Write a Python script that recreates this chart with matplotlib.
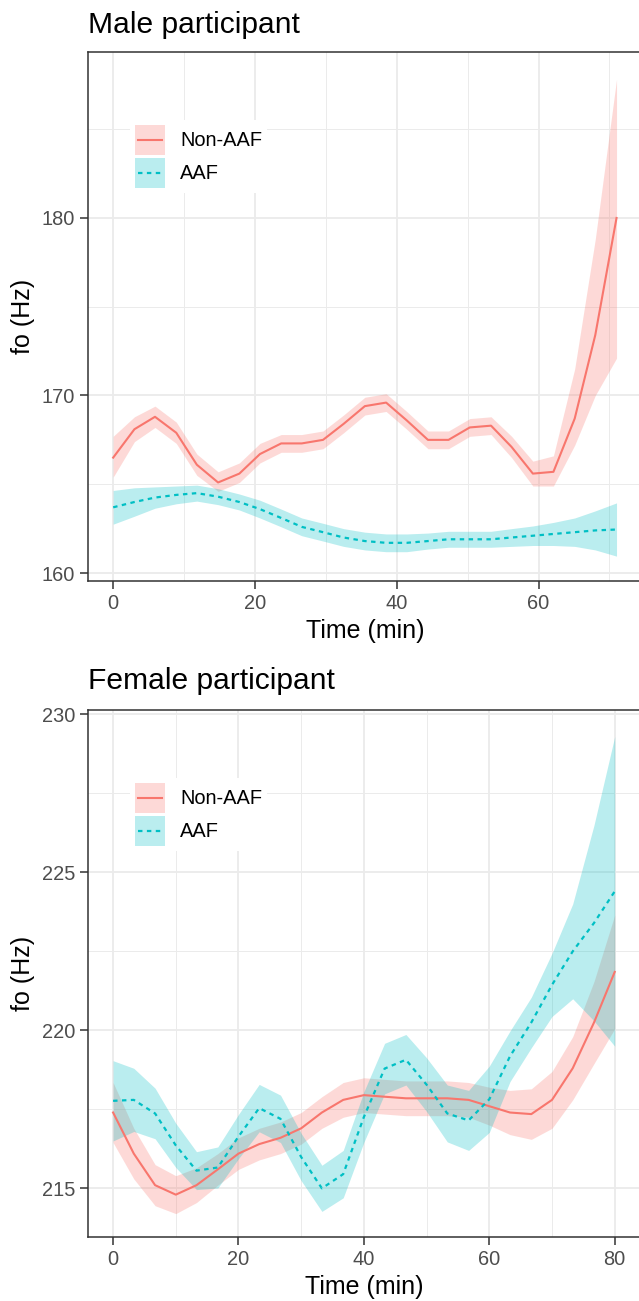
import matplotlib
matplotlib.use("Agg")
import matplotlib.pyplot as plt
import numpy as np
from matplotlib.patches import Patch
from matplotlib.lines import Line2D
from matplotlib.legend_handler import HandlerTuple, HandlerLine2D

plt.rcParams['font.family'] = ['Liberation Sans', 'DejaVu Sans']

# ---- data ----
# male participant
male_time = [0, 3, 5.9, 8.9, 11.8, 14.8, 17.8, 20.7, 23.7, 26.6, 29.6, 32.5, 35.5,
             38.5, 41.4, 44.4, 47.3, 50.3, 53.3, 56.2, 59.2, 62.1, 65.1, 68, 71]
male_nonaaf = [166.5, 168.1, 168.8, 167.9, 166.1, 165.1, 165.6, 166.7, 167.3, 167.3,
               167.5, 168.4, 169.4, 169.6, 168.6, 167.5, 167.5, 168.2, 168.3, 167.1,
               165.6, 165.7, 168.7, 173.4, 180.0]
male_nonaaf_lo = [165.4, 167.4, 168.2, 167.3, 165.5, 164.6, 165.1, 166.2, 166.8, 166.8,
                  167.0, 167.9, 168.9, 169.1, 168.1, 167.0, 167.0, 167.7, 167.8, 166.5,
                  164.9, 164.9, 167.2, 170.0, 172.1]
male_nonaaf_hi = [167.7, 168.8, 169.4, 168.5, 166.7, 165.7, 166.2, 167.3, 167.8, 167.8,
                  168.0, 168.9, 169.9, 170.1, 169.1, 168.0, 168.0, 168.7, 168.8, 167.7,
                  166.3, 166.6, 171.5, 178.8, 187.8]
male_aaf = [163.7, 164.0, 164.25, 164.4, 164.5, 164.3, 164.0, 163.6, 163.1, 162.6,
            162.3, 162.0, 161.8, 161.7, 161.7, 161.8, 161.9, 161.9, 161.9, 162.0,
            162.1, 162.2, 162.3, 162.4, 162.45]
male_aaf_ci = [0.95, 0.8, 0.6, 0.5, 0.45, 0.45, 0.45, 0.5, 0.5, 0.5, 0.5, 0.5, 0.5,
               0.5, 0.5, 0.45, 0.45, 0.45, 0.45, 0.5, 0.55, 0.65, 0.8, 1.1, 1.5]

# female participant
female_time = [0, 3.3, 6.7, 10, 13.3, 16.7, 20, 23.3, 26.7, 30, 33.3, 36.7, 40,
               43.3, 46.7, 50, 53.3, 56.7, 60, 63.3, 66.7, 70, 73.3, 76.7, 80]
female_nonaaf = [217.4, 216.1, 215.1, 214.8, 215.1, 215.6, 216.1, 216.4, 216.6, 216.9,
                 217.4, 217.8, 217.95, 217.9, 217.85, 217.85, 217.85, 217.8, 217.6,
                 217.4, 217.35, 217.8, 218.8, 220.25, 221.85]
female_nonaaf_ci = [0.95, 0.8, 0.65, 0.6, 0.55, 0.5, 0.5, 0.5, 0.5, 0.5, 0.5, 0.55,
                    0.55, 0.55, 0.55, 0.55, 0.55, 0.55, 0.6, 0.7, 0.8, 0.9, 1.0, 1.3, 1.8]
female_aaf = [217.77, 217.8, 217.37, 216.36, 215.56, 215.66, 216.64, 217.54, 217.2,
              215.99, 215.0, 215.45, 217.26, 218.79, 219.07, 218.28, 217.37, 217.15,
              217.82, 219.18, 220.25, 221.44, 222.5, 223.4, 224.4]
female_aaf_ci = [1.27, 1.0, 0.8, 0.7, 0.6, 0.65, 0.7, 0.75, 0.75, 0.75, 0.73, 0.75,
                 0.8, 0.8, 0.8, 0.85, 0.9, 0.95, 1.05, 0.8, 0.8, 1.0, 1.5, 3.1, 4.9]

labels = ["Non-AAF", "AAF"]
red = "#F8766D"
blue = "#00BFC4"

W, H = 639, 1301
fig = plt.figure(figsize=(W / 100, H / 100), dpi=100)


def panel(l, t, r, b):
    return fig.add_axes([l / W, 1 - b / H, (r - l) / W, (b - t) / H])


def style(ax, title, pad):
    ax.set_axisbelow(True)
    ax.grid(which='major', color='#EBEBEB', lw=1.3)
    ax.grid(which='minor', color='#EBEBEB', lw=0.7)
    for s in ax.spines.values():
        s.set_color('#333333')
        s.set_linewidth(1.1)
    ax.tick_params(which='major', length=5.8, width=1.1, color='#333333',
                   labelsize=14.4, labelcolor='#4D4D4D')
    ax.tick_params(axis='x', which='major', pad=3.5)
    ax.tick_params(axis='y', which='major', pad=3.6)
    ax.tick_params(which='minor', length=0)
    ax.set_title(title, loc='left', fontsize=21.6, pad=pad)
    ax.set_xlabel("Time (min)", fontsize=18)
    ax.set_ylabel("fo (Hz)", fontsize=18)
    ax.xaxis.set_label_coords(0.5, -0.072)
    ax.yaxis.set_label_coords(-0.096, 0.5)


def draw(ax, t, m1, lo1, hi1, m2, lo2, hi2):
    ax.fill_between(t, lo1, hi1, color=red, alpha=0.27, lw=0)
    ax.fill_between(t, lo2, hi2, color=blue, alpha=0.27, lw=0)
    ax.plot(t, m1, color=red, lw=1.5)
    ax.plot(t, m2, color=blue, lw=1.6, dashes=(2, 2))


# legend line drawn through the middle of the key box
class CenterLine(HandlerLine2D):
    def create_artists(self, legend, orig_handle, xdescent, ydescent, width,
                       height, fontsize, trans):
        y = height / 2 - ydescent
        line = Line2D([-xdescent + 2, width - xdescent - 2], [y, y])
        self.update_prop(line, orig_handle, legend)
        line.set_transform(trans)
        return [line]


def add_legend(ax, y):
    h = [(Patch(facecolor=red, alpha=0.27, lw=0), Line2D([], [], color=red, lw=1.5)),
         (Patch(facecolor=blue, alpha=0.27, lw=0),
          Line2D([], [], color=blue, lw=1.6, dashes=(2, 2)))]
    leg = ax.legend(h, labels, loc='upper left', bbox_to_anchor=(0.076, y),
                    handler_map={tuple: HandlerTuple(ndivide=1, pad=0),
                                 Line2D: CenterLine()},
                    frameon=True, fancybox=False, framealpha=1, facecolor='white',
                    edgecolor='none', fontsize=14.4, handlelength=1.5,
                    handleheight=1.93, labelspacing=0.15, handletextpad=0.75,
                    borderpad=0.25, borderaxespad=0)
    return leg


# male panel
ax1 = panel(88, 51.8, 641.7, 581)
mlo = np.array(male_aaf) - np.array(male_aaf_ci)
mhi = np.array(male_aaf) + np.array(male_aaf_ci)
draw(ax1, male_time, male_nonaaf, male_nonaaf_lo, male_nonaaf_hi, male_aaf, mlo, mhi)
ax1.set_xlim(-3.55, 74.55)
ax1.set_ylim(159.55, 189.36)
ax1.set_xticks([0, 20, 40, 60])
ax1.set_xticks([10, 30, 50, 70], minor=True)
ax1.set_yticks([160, 170, 180])
ax1.set_yticks([165, 175, 185], minor=True)
style(ax1, "Male participant", 13.7)
add_legend(ax1, 0.871)

# female panel
ax2 = panel(88, 710, 639.8, 1237)
f1 = np.array(female_nonaaf)
c1 = np.array(female_nonaaf_ci)
f2 = np.array(female_aaf)
c2 = np.array(female_aaf_ci)
draw(ax2, female_time, f1, f1 - c1, f1 + c1, f2, f2 - c2, f2 + c2)
ax2.set_xlim(-4, 84)
ax2.set_ylim(213.46, 230.14)
ax2.set_xticks([0, 20, 40, 60, 80])
ax2.set_xticks([10, 30, 50, 70], minor=True)
ax2.set_yticks([215, 220, 225, 230])
ax2.set_yticks([217.5, 222.5, 227.5], minor=True)
style(ax2, "Female participant", 14.9)
add_legend(ax2, 0.871)

fig.savefig("out.png", dpi=100)
